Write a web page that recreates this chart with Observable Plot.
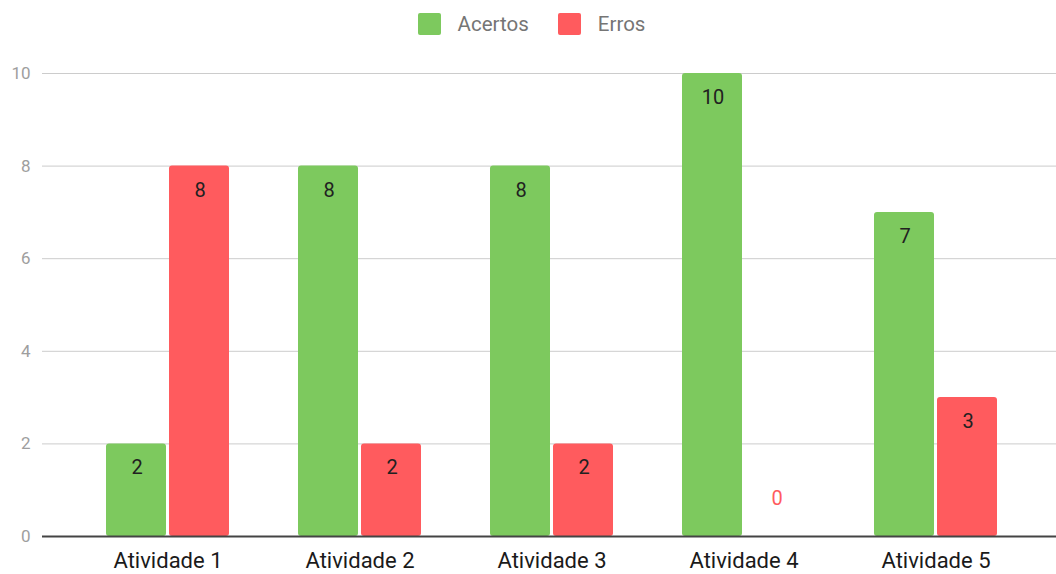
<!DOCTYPE html>
<html>
<head>
<meta charset="utf-8">
<script src="https://cdn.jsdelivr.net/npm/d3@7"></script>
<script src="https://cdn.jsdelivr.net/npm/@observablehq/plot@0.6"></script>
<style>
  html, body { margin: 0; padding: 0; background: #fff; }
  body { width: 1056px; height: 574px; overflow: hidden; font-family: Roboto, "Noto Sans", sans-serif; }
  #legend { height: 48px; display: flex; justify-content: center; align-items: center; font-size: 20.5px; color: #757575; padding-left: 7px; box-sizing: border-box; gap: 29px; }
  .item { display: flex; align-items: center; }
  .sw { width: 23px; height: 22px; border-radius: 2px; margin-right: 17px; }
  #chart svg { display: block; }
</style>
</head>
<body>
<div id="legend"></div>
<div id="chart"></div>
<script>
const atividades = ["Atividade 1", "Atividade 2", "Atividade 3", "Atividade 4", "Atividade 5"];
const acertos = [2, 8, 8, 10, 7];
const erros = [8, 2, 2, 0, 3];
const seriesNames = ["Acertos", "Erros"];
const seriesColors = ["#7dc95e", "#ff5b5e"];
const yTicks = [0, 2, 4, 6, 8, 10];

const data = atividades.map((a, i) => ({atividade: a, acertos: acertos[i], erros: erros[i]}));

const legend = document.getElementById("legend");
seriesNames.forEach((name, i) => {
  const item = document.createElement("div");
  item.className = "item";
  const sw = document.createElement("div");
  sw.className = "sw";
  sw.style.background = seriesColors[i];
  const t = document.createElement("span");
  t.textContent = name;
  item.appendChild(sw);
  item.appendChild(t);
  legend.appendChild(item);
});

const chart = Plot.plot({
  width: 1056,
  height: 526,
  marginTop: 25,
  marginBottom: 38,
  marginLeft: 42,
  marginRight: 0,
  style: {fontFamily: "Roboto, 'Noto Sans', sans-serif", background: "#fff"},
  x: {domain: atividades, paddingInner: 0.36, paddingOuter: 0.3, insetLeft: 5, insetRight: 1, label: null},
  y: {domain: [0, 10], label: null},
  marks: [
    Plot.gridY(yTicks, {stroke: "#cccccc", strokeOpacity: 1, strokeWidth: 1}),
    Plot.axisY(yTicks, {tickSize: 0, tickPadding: 12, fontSize: 17, fill: "#9e9e9e", label: null}),
    Plot.barY(data, {x: "atividade", y: "acertos", fill: seriesColors[0], insetRight: 63, rx: 3}),
    Plot.barY(data, {x: "atividade", y: "erros", fill: seriesColors[1], insetLeft: 63, rx: 3}),
    Plot.ruleY([0], {stroke: "#444", strokeWidth: 2}),
    Plot.text(data.filter(d => d.acertos > 0), {x: "atividade", y: "acertos", text: d => String(d.acertos), dx: -31, dy: 24, fontSize: 20, fill: "#212121"}),
    Plot.text(data.filter(d => d.erros > 0), {x: "atividade", y: "erros", text: d => String(d.erros), dx: 32, dy: 24, fontSize: 20, fill: "#212121"}),
    Plot.text(data.filter(d => d.erros === 0), {x: "atividade", y: "erros", text: d => String(d.erros), dx: 33, dy: -38, fontSize: 20, fill: seriesColors[1]}),
    Plot.axisX({tickSize: 0, tickPadding: 16, fontSize: 22, fill: "#1a1a1a", label: null})
  ]
});
document.getElementById("chart").appendChild(chart);
</script>
</body>
</html>
